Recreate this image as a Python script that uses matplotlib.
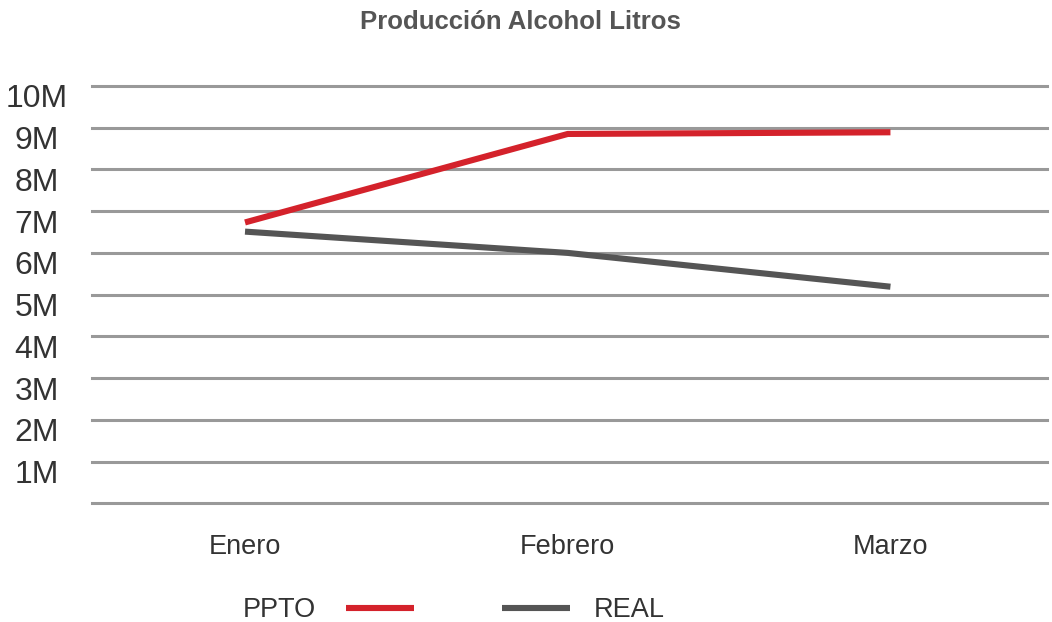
import matplotlib.pyplot as plt
from matplotlib.transforms import ScaledTranslation

# Datos
meses = ['Enero', 'Febrero', 'Marzo']
ppto = [6.73e6, 8.85e6, 8.89e6]
real = [6.51e6, 6.00e6, 5.19e6]
ticks_y = [0, 1e6, 2e6, 3e6, 4e6, 5e6, 6e6, 7e6, 8e6, 9e6, 10e6]
etiquetas_y = ['', '1M', '2M', '3M', '4M', '5M', '6M', '7M', '8M', '9M', '10M']

plt.rcParams['font.family'] = ['Liberation Sans', 'DejaVu Sans']

fig = plt.figure(figsize=(10.52, 6.22), dpi=100)
ax = fig.add_axes([0.0875, 0.1908, 0.9077, 0.6710])

x = range(len(meses))
l1, = ax.plot(x, ppto, color='#d4222b', lw=4.4, solid_capstyle='butt', zorder=3)
l2, = ax.plot(x, real, color='#555555', lw=4.4, solid_capstyle='butt', zorder=3)

ax.set_xlim(-0.474, 2.485)
ax.set_ylim(0, 10e6)
ax.set_yticks(ticks_y)
ax.set_yticklabels(etiquetas_y)
ax.set_xticks(list(x))
ax.set_xticklabels(meses)

for y in ticks_y:
    ax.axhline(y, color='#999999', lw=2.2, zorder=1, clip_on=False)

for s in ax.spines.values():
    s.set_visible(False)
ax.tick_params(axis='both', length=0, colors='#333333')
ax.tick_params(axis='y', labelsize=23, pad=40)
ax.tick_params(axis='x', labelsize=19.5, pad=22)
for lab in ax.get_yticklabels():
    lab.set_horizontalalignment('center')
    lab.set_transform(lab.get_transform() + ScaledTranslation(0, -0.10, fig.dpi_scale_trans))

fig.text(520 / 1052, 1 - 22 / 622, 'Producción Alcohol Litros', ha='center', va='center',
         fontsize=18.5, fontweight='bold', color='#555555')

leg1 = fig.legend([l1], ['PPTO'], loc='center left', bbox_to_anchor=(243 / 1052, 1 - 610 / 622),
                  frameon=False, markerfirst=False, fontsize=19.5, handlelength=2.5,
                  handletextpad=1.1, borderpad=0, borderaxespad=0, labelcolor='#333333')
fig.legend([l2], ['REAL'], loc='center left', bbox_to_anchor=(502 / 1052, 1 - 610 / 622),
           frameon=False, fontsize=19.5, handlelength=2.5,
           handletextpad=0.9, borderpad=0, borderaxespad=0, labelcolor='#333333')

fig.savefig('out.png', dpi=100)
